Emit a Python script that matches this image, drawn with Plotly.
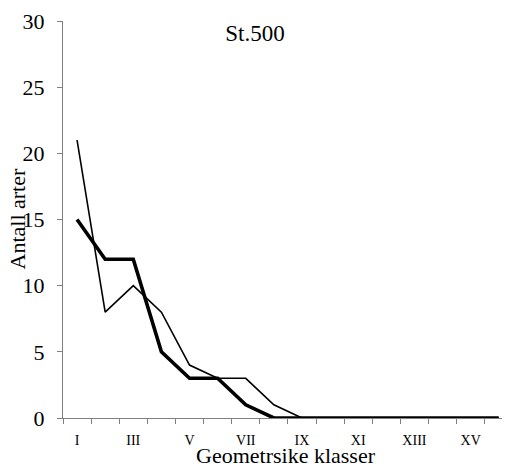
import plotly.graph_objects as go

categories = ["I", "II", "III", "IV", "V", "VI", "VII", "VIII", "IX", "X",
              "XI", "XII", "XIII", "XIV", "XV", "XVI"]
tick_labels = ["I", "", "III", "", "V", "", "VII", "", "IX", "",
               "XI", "", "XIII", "", "XV", ""]
thin_series = [21, 8, 10, 8, 4, 3, 3, 1, 0, 0, 0, 0, 0, 0, 0, 0]
thick_series = [15, 12, 12, 5, 3, 3, 1, 0, 0, 0, 0, 0, 0, 0, 0, 0]

FONT = "Liberation Serif"
W, H = 502, 460  # page body has an 8px margin; figure fills rest of window

fig = go.Figure()
fig.add_trace(go.Scatter(x=categories, y=thin_series, mode="lines",
                         line=dict(color="black", width=1.6), showlegend=False))
fig.add_trace(go.Scatter(x=categories, y=thick_series, mode="lines",
                         line=dict(color="black", width=3.6), showlegend=False))

fig.update_layout(
    width=W, height=H,
    margin=dict(l=55, r=0, t=13, b=50, autoexpand=False),
    paper_bgcolor="white", plot_bgcolor="white",
    font=dict(family=FONT, color="black"),
    title=dict(text="St.500", x=247 / W, xref="container", xanchor="center",
               y=1 - 25 / H, yref="container", yanchor="middle",
               font=dict(size=23, family=FONT, color="black")),
    xaxis=dict(
        type="category", categoryorder="array", categoryarray=categories,
        range=[-0.5, 15.4], automargin=False, tickangle=0,
        tickmode="array", tickvals=categories, ticktext=tick_labels,
        tickson="boundaries", ticks="outside", ticklen=5, tickwidth=1,
        tickcolor="#808080",
        showline=True, linecolor="#808080", linewidth=1,
        showgrid=False, zeroline=False,
        tickfont=dict(size=14, family=FONT, color="black"),
        ticklabelstandoff=9,
    ),
    yaxis=dict(
        range=[0, 30], dtick=5, tick0=0, automargin=False,
        ticks="outside", ticklen=5, tickwidth=1, tickcolor="#808080",
        showline=True, linecolor="#808080", linewidth=1,
        showgrid=False, zeroline=False,
        tickfont=dict(size=22, family=FONT, color="black"),
        ticklabelstandoff=8,
    ),
    annotations=[
        dict(text="Antall arter", xref="paper", yref="paper",
             x=(9 - 55) / 447, y=0.5, xanchor="center", yanchor="middle",
             textangle=-90, showarrow=False,
             font=dict(size=22, family=FONT, color="black")),
        dict(text="Geometrsike klasser", xref="paper", yref="paper",
             x=(278 - 55) / 447, y=-38 / 397, xanchor="center",
             yanchor="middle", showarrow=False,
             font=dict(size=22, family=FONT, color="black")),
    ],
)

fig.write_html("out.html")
